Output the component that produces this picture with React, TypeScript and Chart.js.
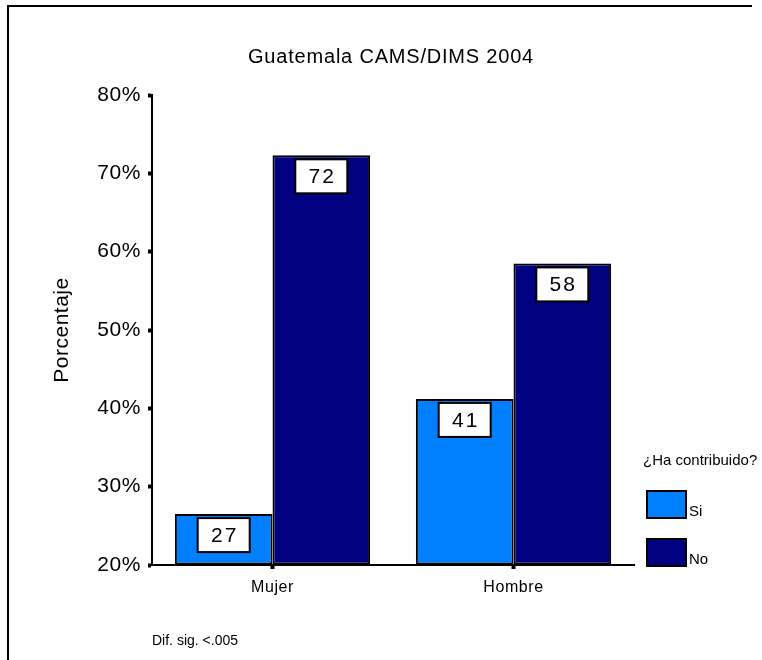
import React, { useEffect, useRef } from "react";
import { Chart, registerables } from "chart.js";

Chart.register(...registerables);

const categories = ["Mujer", "Hombre"];
const siValues = [26.5, 41.2];
const noValues = [72.3, 58.5];
const siLabels = ["27", "41"];
const noLabels = ["72", "58"];
const seriesNames = ["Si", "No"];
const seriesColors = ["#0080FF", "#000080"];
const yMin = 20;
const yMax = 80;
const yStep = 10;
const titleText = "Guatemala CAMS/DIMS 2004";
const yTitle = "Porcentaje";
const legendTitle = "¿Ha contribuido?";
const noteText = "Dif. sig. <.005";

const FONT = "'Liberation Sans', Arial, sans-serif";

const decorPlugin = {
  id: "decor",
  beforeDraw(chart: any) {
    const ctx = chart.ctx;
    ctx.letterSpacing = "0.6px";
  },
  afterDatasetsDraw(chart: any) {
    const ctx = chart.ctx;
    const labelSets = [siLabels, noLabels];
    ctx.save();
    chart.data.datasets.forEach((ds: any, di: number) => {
      const meta = chart.getDatasetMeta(di);
      meta.data.forEach((el: any, i: number) => {
        const w = 52;
        const h = 34;
        const x = el.x - w / 2;
        const y = el.y + 4;
        ctx.fillStyle = "#ffffff";
        ctx.fillRect(x, y, w, h);
        ctx.strokeStyle = "#000000";
        ctx.lineWidth = 2;
        ctx.strokeRect(x, y, w, h);
        ctx.fillStyle = "#000000";
        ctx.font = `21px ${FONT}`;
        ctx.letterSpacing = "2px";
        ctx.textAlign = "center";
        ctx.textBaseline = "middle";
        ctx.fillText(labelSets[di][i], el.x + 1, y + h / 2 + 1);
      });
    });
    ctx.restore();
  },
  afterDraw(chart: any) {
    const ctx = chart.ctx;
    ctx.save();
    // outer frame
    ctx.fillStyle = "#000000";
    ctx.fillRect(7, 5, 745, 2);
    ctx.fillRect(7, 5, 2, 655);

    // title
    ctx.letterSpacing = "0.8px";
    ctx.font = `20px ${FONT}`;
    ctx.textAlign = "center";
    ctx.textBaseline = "middle";
    ctx.fillStyle = "#000000";
    ctx.fillText(titleText, 391, 57);

    // y title
    ctx.save();
    ctx.translate(62, 330);
    ctx.rotate(-Math.PI / 2);
    ctx.letterSpacing = "0.5px";
    ctx.font = `21px ${FONT}`;
    ctx.fillText(yTitle, 0, 0);
    ctx.restore();

    // legend
    ctx.letterSpacing = "0px";
    ctx.font = `15px ${FONT}`;
    ctx.textAlign = "left";
    ctx.fillText(legendTitle, 643, 461);
    const boxYs = [491, 539];
    chart.data.datasets.forEach((ds: any, i: number) => {
      ctx.fillStyle = ds.backgroundColor;
      ctx.fillRect(647, boxYs[i], 39, 27);
      ctx.strokeStyle = "#000000";
      ctx.lineWidth = 2;
      ctx.strokeRect(647, boxYs[i], 39, 27);
      ctx.fillStyle = "#000000";
      ctx.font = `15px ${FONT}`;
      ctx.fillText(ds.label, 689, boxYs[i] + 21);
    });

    // note
    ctx.font = `14px ${FONT}`;
    ctx.fillText(noteText, 152, 641);
    ctx.restore();
    ctx.letterSpacing = "0px";
  },
};

export default function App() {
  const ref = useRef<HTMLCanvasElement | null>(null);
  useEffect(() => {
    if (!ref.current) return;
    const chart = new Chart(ref.current, {
      type: "bar",
      data: {
        labels: categories,
        datasets: [
          {
            label: seriesNames[0],
            data: siValues,
            backgroundColor: seriesColors[0],
            borderColor: "#000000",
            borderWidth: 2,
            borderSkipped: false,
            base: yMin,
            categoryPercentage: 0.81,
            barPercentage: 1.0,
          } as any,
          {
            label: seriesNames[1],
            data: noValues,
            backgroundColor: seriesColors[1],
            borderColor: "#000000",
            borderWidth: 2,
            borderSkipped: false,
            base: yMin,
            categoryPercentage: 0.81,
            barPercentage: 1.0,
          } as any,
        ],
      },
      options: {
        responsive: false,
        animation: false,
        devicePixelRatio: 1,
        layout: { padding: { top: 95, right: 128, left: 0, bottom: 0 } },
        plugins: {
          legend: { display: false },
          title: { display: false },
          tooltip: { enabled: false },
        },
        scales: {
          x: {
            offset: true,
            afterFit: (s: any) => {
              s.height = 95;
            },
            grid: {
              display: true,
              offset: false,
              drawOnChartArea: false,
              drawTicks: true,
              tickLength: 4,
              tickWidth: 4,
              tickColor: "#000000",
              color: "#000000",
            },
            border: { display: true, color: "#000000", width: 2 },
            ticks: {
              color: "#000000",
              font: { family: FONT, size: 16 },
              padding: 9,
            },
          },
          y: {
            min: yMin,
            max: yMax,
            afterFit: (s: any) => {
              s.width = 152;
            },
            grid: {
              display: true,
              drawOnChartArea: false,
              drawTicks: true,
              tickLength: 4,
              tickWidth: 4,
              tickColor: "#000000",
              color: "#000000",
            },
            border: { display: true, color: "#000000", width: 2 },
            ticks: {
              stepSize: yStep,
              color: "#000000",
              font: { family: FONT, size: 21 },
              padding: 7,
              callback: (v: any) => `${v}%`,
            },
          },
        },
      },
      plugins: [decorPlugin],
    });
    return () => chart.destroy();
  }, []);
  return (
    <div style={{ position: "absolute", left: 0, top: 0, width: 762, height: 660, background: "#fff" }}>
      <canvas ref={ref} width={762} height={660} />
    </div>
  );
}
